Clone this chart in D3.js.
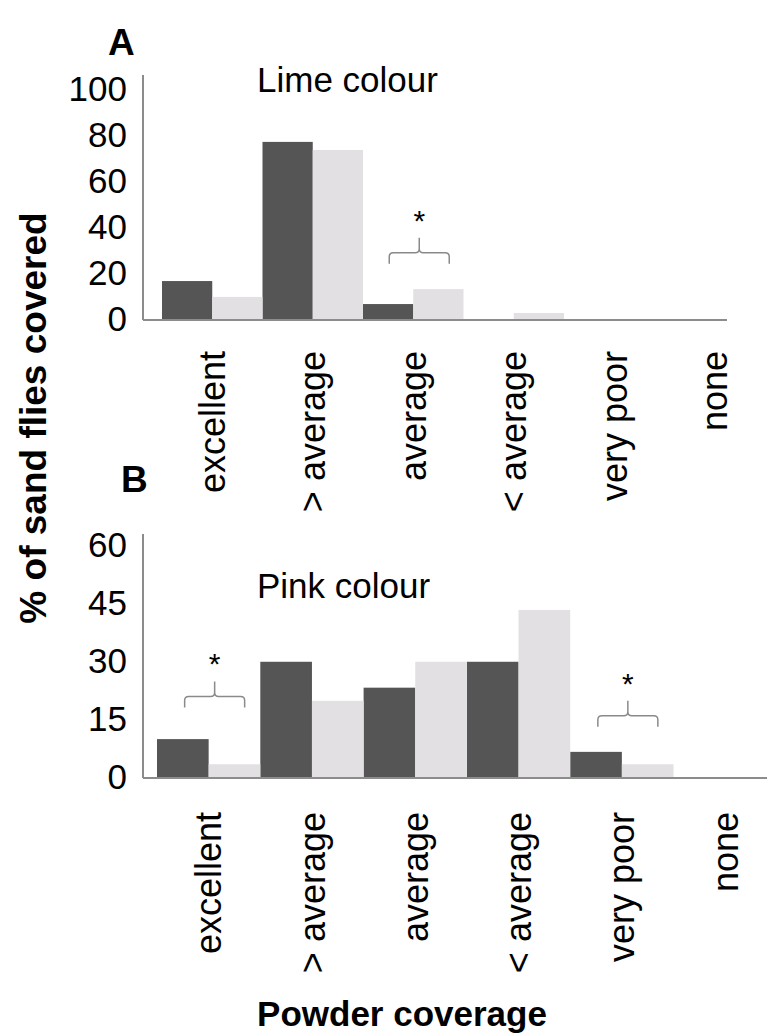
<!DOCTYPE html>
<html>
<meta charset="utf-8">
<style>
body {
  margin: 0;
  background: #fff;
}
text {
  font-family: "Liberation Sans", Arial, sans-serif;
  fill: #000;
}
.panel-letter, .axis-title {
  font-weight: bold;
}
.bar-dark { fill: #555555; }
.bar-light { fill: #e2e0e3; }
.axis-line {
  stroke: #8c8c8c;
  stroke-width: 2;
}
.bracket {
  fill: none;
  stroke: #8a8a8a;
  stroke-width: 1.5;
}
</style>
<body>
<script src="https://d3js.org/d3.v7.min.js"></script>
<script>

var categories = ["excellent", "> average", "average", "< average", "very poor", "none"];

// panel A, lime colour
var limeDark  = [16.5, 77, 6.5, 0, 0, 0];
var limeLight = [9.6, 73.5, 13, 2.6, 0, 0];
var limeTicks = [0, 20, 40, 60, 80, 100];
var limeSig   = [{cat: "average", level: 24}];

// panel B, pink colour
var pinkDark  = [9.8, 29.8, 23.1, 29.8, 6.5, 0];
var pinkLight = [3.3, 19.7, 29.8, 43.2, 3.3, 0];
var pinkTicks = [0, 15, 30, 45, 60];
var pinkSig   = [{cat: "excellent", level: 18}, {cat: "very poor", level: 13}];

var svg = d3.select("body").append("svg")
    .attr("width", 767)
    .attr("height", 1034);

function drawPanel(p) {
  var g = svg.append("g");

  var x0 = d3.scaleBand()
      .domain(categories)
      .range([p.barLeft, p.barLeft + p.step * categories.length]);
  var x1 = d3.scaleBand()
      .domain(["dark", "light"])
      .range([0, x0.bandwidth()]);
  var y = d3.scaleLinear()
      .domain([0, p.max])
      .range([p.base, p.top]);

  var rows = categories.map(function(c, i) {
    return {cat: c, dark: p.dark[i], light: p.light[i]};
  });

  // bars
  ["dark", "light"].forEach(function(s) {
    g.selectAll(".bar-" + s)
      .data(rows)
      .enter()
      .append("rect")
      .attr("class", "bar-" + s)
      .attr("x", function(d) { return x0(d.cat) + x1(s); })
      .attr("width", x1.bandwidth())
      .attr("y", function(d) { return y(d[s]); })
      .attr("height", function(d) { return y(0) - y(d[s]); });
  });

  // y axis
  var yAxis = g.append("g")
      .attr("transform", "translate(" + p.axisX + ",0)")
      .call(d3.axisLeft(y).tickValues(p.ticks).tickSize(0).tickPadding(16));
  yAxis.select(".domain").remove();
  yAxis.selectAll("text")
      .style("font-family", "'Liberation Sans', Arial, sans-serif")
      .style("font-size", "35px");

  g.append("line")
      .attr("class", "axis-line")
      .attr("x1", p.axisX).attr("x2", p.axisX)
      .attr("y1", p.axisTop).attr("y2", y(0) + 1);

  // x axis
  g.append("line")
      .attr("class", "axis-line")
      .attr("x1", p.axisX).attr("x2", p.axisRight)
      .attr("y1", y(0) + 1).attr("y2", y(0) + 1);

  var xAxis = g.append("g")
      .attr("transform", "translate(0," + y(0) + ")")
      .call(d3.axisBottom(x0).tickSize(0));
  xAxis.select(".domain").remove();
  xAxis.selectAll("text")
      .attr("transform", "rotate(-90)")
      .attr("x", -p.labelGap)
      .attr("y", 0)
      .attr("dy", "0.35em")
      .style("text-anchor", "end")
      .style("font-family", "'Liberation Sans', Arial, sans-serif")
      .style("font-size", "36px");

  // significance brackets
  p.sig.forEach(function(s) {
    var cx = x0(s.cat) + x0.bandwidth() / 2 + 6;
    var hy = y(s.level) - 11;
    var path = d3.path();
    path.moveTo(cx - 30, hy + 11);
    path.lineTo(cx - 30, hy + 4);
    path.quadraticCurveTo(cx - 30, hy, cx - 26, hy);
    path.lineTo(cx - 4, hy);
    path.quadraticCurveTo(cx, hy, cx, hy - 4);
    path.lineTo(cx, hy - 15);
    path.moveTo(cx, hy - 4);
    path.quadraticCurveTo(cx, hy, cx + 4, hy);
    path.lineTo(cx + 26, hy);
    path.quadraticCurveTo(cx + 30, hy, cx + 30, hy + 4);
    path.lineTo(cx + 30, hy + 11);
    g.append("path").attr("class", "bracket").attr("d", path.toString());
    g.append("text")
        .attr("x", cx)
        .attr("y", hy - 22)
        .attr("text-anchor", "middle")
        .style("font-size", "30px")
        .text("*");
  });

  // panel title and letter
  g.append("text")
      .attr("x", 257)
      .attr("y", p.titleY)
      .style("font-size", "35px")
      .text(p.title);
  g.append("text")
      .attr("class", "panel-letter")
      .attr("x", p.letterX)
      .attr("y", p.letterY)
      .style("font-size", "37px")
      .text(p.letter);
}

drawPanel({
  dark: limeDark, light: limeLight, ticks: limeTicks, sig: limeSig,
  max: 100, base: 319, top: 89, axisTop: 75, axisX: 143, axisRight: 727,
  barLeft: 162, step: 100.5, labelGap: 32,
  title: "Lime colour", titleY: 92, letter: "A", letterX: 108, letterY: 55
});

drawPanel({
  dark: pinkDark, light: pinkLight, ticks: pinkTicks, sig: pinkSig,
  max: 60, base: 777, top: 545, axisTop: 534, axisX: 143, axisRight: 767,
  barLeft: 157, step: 103.3, labelGap: 35,
  title: "Pink colour", titleY: 598, letter: "B", letterX: 121, letterY: 492
});

svg.append("text")
    .attr("class", "axis-title")
    .attr("transform", "translate(46,418) rotate(-90)")
    .attr("text-anchor", "middle")
    .style("font-size", "37px")
    .text("% of sand flies covered");

svg.append("text")
    .attr("class", "axis-title")
    .attr("x", 402)
    .attr("y", 1026)
    .attr("text-anchor", "middle")
    .style("font-size", "35px")
    .text("Powder coverage");

</script>
</body>
</html>
